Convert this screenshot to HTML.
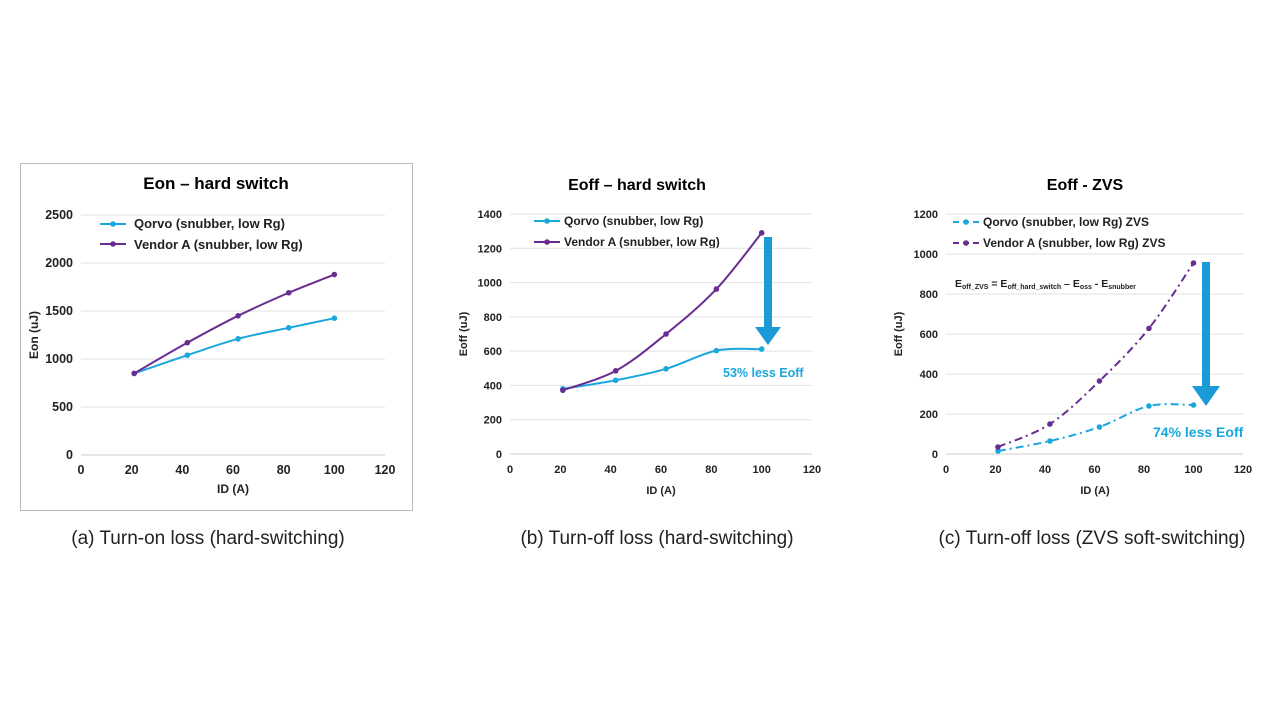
<!DOCTYPE html><html><head><style>body{margin:0;background:#fff}svg{display:block;font-family:"Liberation Sans",Arial,sans-serif}</style></head><body>
<svg id="s" width="1280" height="721" xmlns="http://www.w3.org/2000/svg">
<rect x="20.5" y="163.5" width="392" height="347" fill="#fff" stroke="#bbb"/>
<text x="216" y="189" font-size="17" font-weight="bold" text-anchor="middle">Eon – hard switch</text>
<text x="637" y="190" font-size="16" font-weight="bold" text-anchor="middle">Eoff – hard switch</text>
<text x="1085" y="190" font-size="16" font-weight="bold" text-anchor="middle">Eoff - ZVS</text>
<text x="208" y="544" font-size="19" text-anchor="middle" fill="#222">(a) Turn-on loss (hard-switching)</text>
<text x="657" y="544" font-size="19" text-anchor="middle" fill="#222">(b) Turn-off loss (hard-switching)</text>
<text x="1092" y="544" font-size="19" text-anchor="middle" fill="#222">(c) Turn-off loss (ZVS soft-switching)</text>
<g font-size="13" font-weight="bold" fill="#222">
<text x="134" y="228">Qorvo (snubber, low Rg)</text>
<text x="134" y="249">Vendor A (snubber, low Rg)</text>
</g>
<g font-size="12" fill="#222" font-weight="bold">
<text x="564" y="225">Qorvo (snubber, low Rg)</text>
<text x="564" y="246">Vendor A (snubber, low Rg)</text>
<text x="983" y="226">Qorvo (snubber, low Rg) ZVS</text>
<text x="983" y="247">Vendor A (snubber, low Rg) ZVS</text>
<text x="955" y="287" font-size="10.5">E<tspan font-size="7" dy="2">off_ZVS</tspan><tspan dy="-2"> = E</tspan><tspan font-size="7" dy="2">off_hard_switch</tspan><tspan dy="-2"> – E</tspan><tspan font-size="7" dy="2">oss</tspan><tspan dy="-2"> - E</tspan><tspan font-size="7" dy="2">snubber</tspan></text>
</g>
<text x="723" y="377" font-size="12.5" font-weight="bold" fill="#1aa7dd">53% less Eoff</text>
<text x="1153" y="437" font-size="14" font-weight="bold" fill="#1aa7dd">74% less Eoff</text>
<g font-size="11" font-weight="bold" fill="#222">
<text transform="translate(38 335) rotate(-90)" text-anchor="middle" font-size="12">Eon (uJ)</text>
<text transform="translate(467 334) rotate(-90)" text-anchor="middle">Eoff (uJ)</text>
<text transform="translate(902 334) rotate(-90)" text-anchor="middle">Eoff (uJ)</text>
<text x="233" y="493" text-anchor="middle" font-size="12">ID (A)</text>
<text x="661" y="494" text-anchor="middle">ID (A)</text>
<text x="1095" y="494" text-anchor="middle">ID (A)</text>
</g>
<g id="g"></g>
<path d="M764 237h8v90h9l-13 18-13-18h9z" fill="#1a9ad6"/>
<path d="M1202 262h8v124h10l-14 20-14-20h10z" fill="#1a9ad6"/>
</svg>
<script>
const C='#1aa7dd',P='#6a2c91',g=document.getElementById('g');let h='';
function chart(x0,x1,y0,y1,ymax,step,fs,q,v,dash,leg){
 const X=x=>x0+(x1-x0)*x/120,Y=y=>y0-(y0-y1)*y/ymax;
 for(let y=0;y<=ymax;y+=step){h+=`<line x1="${x0}" x2="${x1}" y1="${Y(y)}" y2="${Y(y)}" stroke="${y?'#e2e2e2':'#ccc'}"/>`;
  h+=`<text x="${x0-8}" y="${Y(y)+4}" font-size="${fs}" font-weight="bold" text-anchor="end" fill="#222">${y}</text>`;}
 for(let x=0;x<=120;x+=20)h+=`<text x="${X(x)}" y="${y0+19}" font-size="${fs}" font-weight="bold" text-anchor="middle" fill="#222">${x}</text>`;
 for(const [d,c] of [[q,C],[v,P]]){const p=d.map(a=>[X(a[0]),Y(a[1])]);
  let s=`M${p[0]}`;for(let i=0;i<p.length-1;i++){const a=p[i-1]||p[i],b=p[i],c2=p[i+1],e=p[i+2]||c2;
   s+=`C${b[0]+(c2[0]-a[0])/6},${b[1]+(c2[1]-a[1])/6} ${c2[0]-(e[0]-b[0])/6},${c2[1]-(e[1]-b[1])/6} ${c2[0]},${c2[1]}`;}
  h+=`<path d="${s}" fill="none" stroke="${c}" stroke-width="2" ${dash?'stroke-dasharray="8 4 2 4"':''}/>`;
  p.forEach(a=>h+=`<circle cx="${a[0]}" cy="${a[1]}" r="2.8" fill="${c}"/>`);}
 leg.forEach(([lx,ly,c])=>{h+=`<line x1="${lx}" x2="${lx+26}" y1="${ly}" y2="${ly}" stroke="${c}" stroke-width="2" ${dash?'stroke-dasharray="6 4"':''}/><circle cx="${lx+13}" cy="${ly}" r="2.8" fill="${c}"/>`;});
}
chart(81,385,455,215,2500,500,12.5,[[21,850],[42,1040],[62,1210],[82,1325],[100,1425]],[[21,850],[42,1170],[62,1450],[82,1690],[100,1880]],0,[[100,224,C],[100,244,P]]);
chart(510,812,454,214,1400,200,11,[[21,380],[42,430],[62,497],[82,603],[100,612]],[[21,372],[42,485],[62,700],[82,962],[100,1290]],0,[[534,221,C],[534,242,P]]);
chart(946,1243,454,214,1200,200,11,[[21,15],[42,65],[62,135],[82,240],[100,245]],[[21,35],[42,150],[62,365],[82,628],[100,955]],1,[[953,222,C],[953,243,P]]);
g.innerHTML=h;
</script></body></html>
